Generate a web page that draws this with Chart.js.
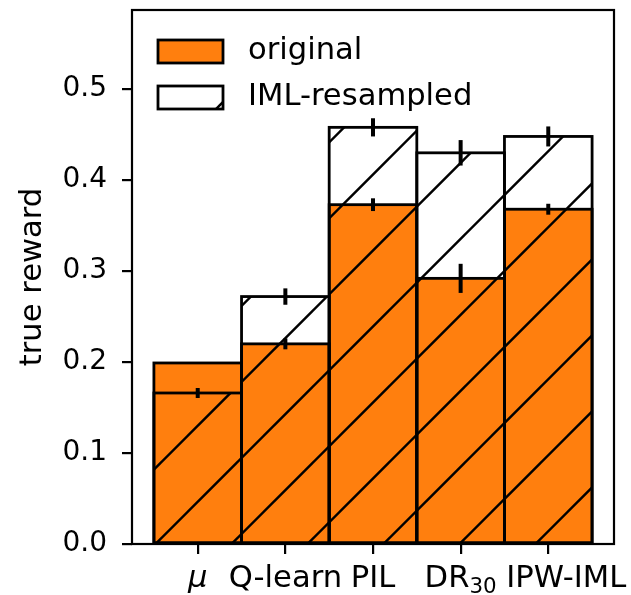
<!DOCTYPE html>
<html>
<head>
<meta charset="utf-8">
<script src="https://cdn.jsdelivr.net/npm/chart.js@4.4.0/dist/chart.umd.min.js"></script>
<style>
    html, body { margin: 0; padding: 0; background: #fff; }
</style>
</head>
<body>
<canvas id="grafico" width="631" height="595"></canvas>
<script>
// datos
const categorias = ['μ', 'Q-learn', 'PIL', 'DR', 'IPW-IML'];
const subindices = ['', '', '', '30', ''];
const original = [0.199, 0.220, 0.373, 0.292, 0.368];
const originalErr = [0, 0.006, 0.007, 0.016, 0.006];
const resampled = [0.166, 0.272, 0.458, 0.430, 0.448];
const resampledErr = [0.0055, 0.009, 0.010, 0.014, 0.011];
const ticksY = [0, 0.1, 0.2, 0.3, 0.4, 0.5];

(function () {
    const fuente = 'DejaVu Sans';
    const naranja = '#ff7f0e';

    function crearRayado() {
        const t = 76;
        const c = document.createElement('canvas');
        c.width = t;
        c.height = t;
        const g = c.getContext('2d');
        g.strokeStyle = '#000';
        g.lineWidth = 2.4;
        [15.5, 91.5].forEach(k => {
            g.beginPath();
            g.moveTo(k + 10, -10);
            g.lineTo(-10, k + 10);
            g.stroke();
        });
        return g.createPattern(c, 'repeat');
    }

    const puntos = (valores) => valores.map((v, i) => ({ x: i, y: v }));

    // bordes de cada barra, centrados como en matplotlib
    const bordes = {
        id: 'bordes',
        afterDatasetDraw(chart, args) {
            const ctx = chart.ctx;
            ctx.save();
            ctx.strokeStyle = '#000';
            ctx.lineWidth = 2.8;
            args.meta.data.forEach(el => {
                const { x, y, base, width } = el.getProps(['x', 'y', 'base', 'width'], true);
                ctx.strokeRect(x - width / 2, y, width, base - y);
            });
            ctx.restore();
        }
    };

    const errores = {
        id: 'errores',
        afterDatasetsDraw(chart) {
            const ctx = chart.ctx;
            const escalaY = chart.scales.y;
            ctx.save();
            ctx.strokeStyle = '#000';
            ctx.lineWidth = 4;
            chart.data.datasets.forEach((ds, d) => {
                const meta = chart.getDatasetMeta(d);
                meta.data.forEach((el, i) => {
                    const err = ds.errores[i];
                    if (!err) return;
                    const v = ds.data[i].y;
                    ctx.beginPath();
                    ctx.moveTo(el.x, escalaY.getPixelForValue(v - err));
                    ctx.lineTo(el.x, escalaY.getPixelForValue(v + err));
                    ctx.stroke();
                });
            });
            ctx.restore();
        }
    };

    const adornos = {
        id: 'adornos',
        afterDraw(chart) {
            const ctx = chart.ctx;
            const area = chart.chartArea;
            const escalaX = chart.scales.x;
            ctx.save();

            // marco
            ctx.strokeStyle = '#000';
            ctx.lineWidth = 2.2;
            ctx.strokeRect(area.left, area.top, area.right - area.left, area.bottom - area.top);

            // etiquetas del eje x
            ctx.fillStyle = '#000';
            ctx.textBaseline = 'alphabetic';
            categorias.forEach((cat, i) => {
                let x = escalaX.getPixelForValue(i);
                if (i === categorias.length - 1) x += 18;
                const y = 587;
                const fPrincipal = (i === 0 ? 'italic ' : '') + '30.6px "' + fuente + '"';
                ctx.font = fPrincipal;
                const w1 = ctx.measureText(cat).width;
                let w2 = 0;
                if (subindices[i]) {
                    ctx.font = '21.4px "' + fuente + '"';
                    w2 = ctx.measureText(subindices[i]).width;
                }
                const inicio = x - (w1 + w2) / 2;
                ctx.textAlign = 'left';
                ctx.font = fPrincipal;
                ctx.fillText(cat, inicio, y);
                if (subindices[i]) {
                    ctx.font = '21.4px "' + fuente + '"';
                    ctx.fillText(subindices[i], inicio + w1, y + 6);
                }
            });

            // titulo eje y
            ctx.save();
            ctx.translate(41, (area.top + area.bottom) / 2);
            ctx.rotate(-Math.PI / 2);
            ctx.textAlign = 'center';
            ctx.font = '30.6px "' + fuente + '"';
            ctx.fillText('true reward', 0, 0);
            ctx.restore();

            // leyenda
            const items = chart.data.datasets.slice().reverse();
            items.forEach((ds, j) => {
                const x0 = 158, w = 65, h = 23;
                const y0 = 40 + j * 46;
                ctx.fillStyle = ds.legendFill;
                ctx.fillRect(x0, y0, w, h);
                if (ds.legendHatch) {
                    ctx.save();
                    ctx.beginPath();
                    ctx.rect(x0, y0, w, h);
                    ctx.clip();
                    ctx.strokeStyle = '#000';
                    ctx.lineWidth = 2.4;
                    ctx.beginPath();
                    ctx.moveTo(x0 + w - 8, y0 + h + 1);
                    ctx.lineTo(x0 + w + 1, y0 + h - 8);
                    ctx.stroke();
                    ctx.restore();
                }
                ctx.strokeStyle = '#000';
                ctx.lineWidth = 2.8;
                ctx.strokeRect(x0, y0, w, h);
                ctx.fillStyle = '#000';
                ctx.textAlign = 'left';
                ctx.textBaseline = 'middle';
                ctx.font = '30.6px "' + fuente + '"';
                ctx.fillText(ds.label, 248, y0 + h / 2);
            });
            ctx.restore();
        }
    };

    const ctx = document.querySelector('#grafico').getContext('2d');
    const myChart = new Chart(ctx, {
        type: 'bar',
        data: {
            datasets: [{
                label: 'IML-resampled',
                data: puntos(resampled),
                errores: resampledErr,
                backgroundColor: crearRayado(),
                legendFill: '#fff',
                legendHatch: true,
                borderWidth: 0,
                grouped: false,
                order: 1,
                barPercentage: 1,
                categoryPercentage: 1
            }, {
                label: 'original',
                data: puntos(original),
                errores: originalErr,
                backgroundColor: naranja,
                legendFill: naranja,
                borderWidth: 0,
                grouped: false,
                order: 2,
                barPercentage: 1,
                categoryPercentage: 1
            }]
        },
        options: {
            responsive: false,
            animation: false,
            layout: {
                autoPadding: false,
                padding: { top: 10, right: 17, left: 0, bottom: 0 }
            },
            plugins: {
                legend: { display: false },
                tooltip: { enabled: false }
            },
            scales: {
                x: {
                    type: 'linear',
                    offset: false,
                    min: -0.75,
                    max: 4.75,
                    afterBuildTicks: s => { s.ticks = categorias.map((c, i) => ({ value: i })); },
                    afterFit: s => {
                        s.height = 51;
                        s.paddingLeft = 0;
                        s.paddingRight = 0;
                    },
                    ticks: { display: false },
                    border: { display: false },
                    grid: {
                        offset: false,
                        drawOnChartArea: false,
                        drawTicks: true,
                        tickLength: 10,
                        color: '#000',
                        lineWidth: 2.2
                    }
                },
                y: {
                    min: 0,
                    max: 0.587,
                    afterBuildTicks: s => { s.ticks = ticksY.map(v => ({ value: v })); },
                    afterFit: s => {
                        s.width = 132;
                        s.paddingTop = 0;
                        s.paddingBottom = 0;
                    },
                    ticks: {
                        callback: v => v.toFixed(1),
                        color: '#000',
                        padding: 15,
                        font: { family: fuente, size: 28 }
                    },
                    border: { display: false },
                    grid: {
                        drawOnChartArea: false,
                        drawTicks: true,
                        tickLength: 10,
                        color: '#000',
                        lineWidth: 2.2
                    }
                }
            }
        },
        plugins: [bordes, errores, adornos]
    });
})();
</script>
</body>
</html>
